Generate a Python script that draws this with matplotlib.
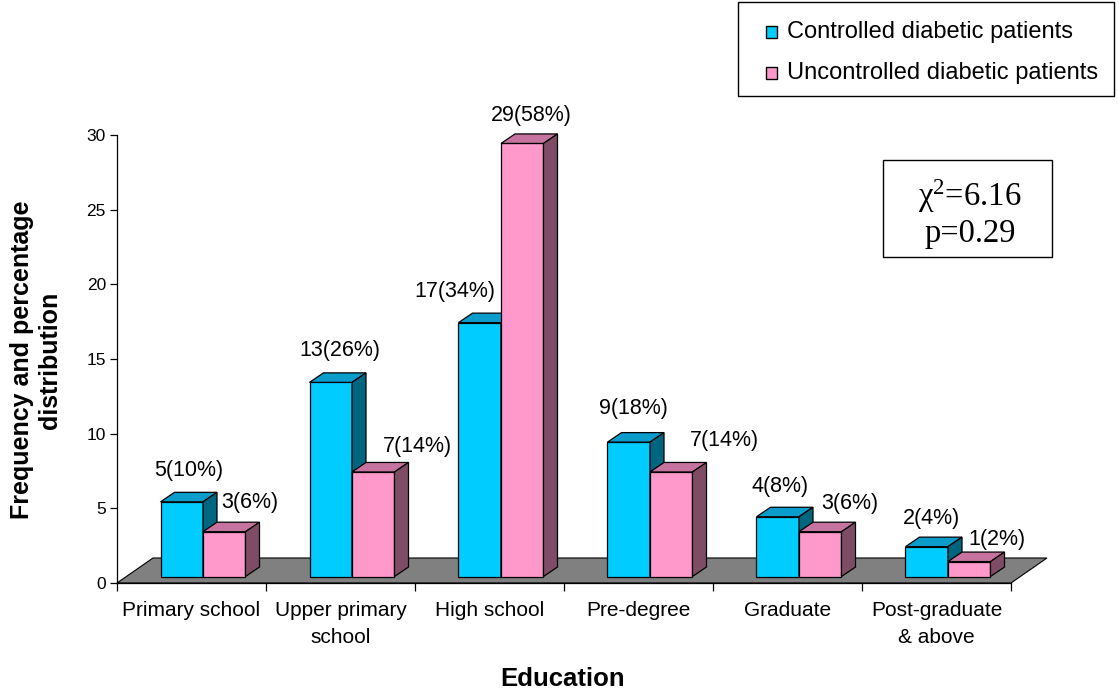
import matplotlib.pyplot as plt
from matplotlib.patches import Polygon, Rectangle

plt.rcParams['font.family'] = ['Liberation Sans', 'DejaVu Sans']
plt.rcParams['mathtext.fontset'] = 'custom'
plt.rcParams['mathtext.rm'] = 'Liberation Serif'
plt.rcParams['mathtext.it'] = 'Liberation Serif'

categories = ["Primary school", "Upper primary\nschool", "High school",
              "Pre-degree", "Graduate", "Post-graduate\n& above"]
controlled = [5, 13, 17, 9, 4, 2]
uncontrolled = [3, 7, 29, 7, 3, 1]
controlled_pct = [10, 26, 34, 18, 8, 4]
uncontrolled_pct = [6, 14, 58, 14, 6, 2]
series_names = ["Controlled diabetic patients", "Uncontrolled diabetic patients"]

# face colours: front, top, side
cyan = ("#00CCFF", "#0A9CCB", "#006680")
pink = ("#FF99CC", "#C6749F", "#7F4C66")

# label nudges in pixels (dx, dy) so the labels do not collide
ctrl_nudge = [(7, 31), (9, 32), (-25, 31), (5, 34), (2, 30), (5, 28)]
unctrl_nudge = [(26, 29), (44, 25), (9, 28), (53, 31), (30, 28), (28, 22)]

W, H = 1119, 691
fig = plt.figure(figsize=(W / 100, H / 100), dpi=100)
ax = fig.add_axes([117 / W, (H - 583) / H, 894 / W, 448 / H])
ax.set_xlim(0, 6)
ax.set_ylim(0, 30)

# pixel -> data
px = 6 / 894
py = 30 / 448
floor_dx, floor_dy = 36 * px, 25 * py
depth_dx, depth_dy = 14 * px, 9.5 * py
bar_off = 43.5 * px
bar_w = 42.5 * px
base = 6.5 * py

floor = Polygon([(0, 0), (6, 0), (6 + floor_dx, floor_dy), (floor_dx, floor_dy)],
                closed=True, facecolor="#808080", edgecolor="black", lw=0.8,
                clip_on=False, zorder=1)
ax.add_patch(floor)


def draw_bar(x0, h, colors):
    front, top, side = colors
    x1 = x0 + bar_w
    y0, y1 = base, base + h
    kw = dict(closed=True, edgecolor="black", lw=0.9, clip_on=False, zorder=2)
    ax.add_patch(Polygon([(x0, y0), (x1, y0), (x1, y1), (x0, y1)], facecolor=front, **kw))
    ax.add_patch(Polygon([(x0, y1), (x1, y1), (x1 + depth_dx, y1 + depth_dy),
                          (x0 + depth_dx, y1 + depth_dy)], facecolor=top, **kw))
    ax.add_patch(Polygon([(x1, y0), (x1 + depth_dx, y0 + depth_dy),
                          (x1 + depth_dx, y1 + depth_dy), (x1, y1)], facecolor=side, **kw))


for i in range(len(categories)):
    x_c = i + bar_off
    x_u = x_c + bar_w
    draw_bar(x_c, controlled[i], cyan)
    draw_bar(x_u, uncontrolled[i], pink)
    ax.annotate("{}({}%)".format(controlled[i], controlled_pct[i]),
                xy=(x_c + bar_w / 2, base + controlled[i]), xytext=ctrl_nudge[i],
                textcoords="offset pixels", ha="center", va="center", fontsize=15.5)
    ax.annotate("{}({}%)".format(uncontrolled[i], uncontrolled_pct[i]),
                xy=(x_u + bar_w / 2, base + uncontrolled[i]), xytext=unctrl_nudge[i],
                textcoords="offset pixels", ha="center", va="center", fontsize=15.5)

# axes
for s in ["top", "right"]:
    ax.spines[s].set_visible(False)
for s in ["left", "bottom"]:
    ax.spines[s].set_linewidth(0.9)
    ax.spines[s].set_zorder(3)

ax.set_yticks(range(0, 31, 5))
ax.tick_params(axis="y", direction="out", length=5, width=0.9, labelsize=12.5, pad=3)
ax.set_xticks(range(7))
ax.set_xticklabels([])
ax.tick_params(axis="x", which="major", direction="out", length=6, width=0.9)
ax.set_xticks([i + 0.5 for i in range(6)], minor=True)
ax.set_xticklabels(categories, minor=True, fontsize=15, linespacing=1.55)
ax.tick_params(axis="x", which="minor", length=0, pad=13)

fig.text(36 / W, 1 - 360 / H, "Frequency and percentage\ndistribution", rotation=90,
         ha="center", va="center", fontsize=18, fontweight="bold", linespacing=1.25)
fig.text(563 / W, 1 - 679 / H, "Education", ha="center", va="center",
         fontsize=18.5, fontweight="bold")

# legend box
fig.add_artist(Rectangle((738 / W, 1 - 96 / H), 376 / W, 94 / H, transform=fig.transFigure,
                         fill=False, edgecolor="black", lw=1))
for name, col, yc in zip(series_names, [cyan[0], pink[0]], [32, 73]):
    fig.add_artist(Rectangle((766 / W, 1 - (yc + 5.5) / H), 11 / W, 11 / H,
                             transform=fig.transFigure, facecolor=col,
                             edgecolor="black", lw=1))
    fig.text(787 / W, 1 - yc / H, name, ha="left", va="center", fontsize=17)

# chi-square box
serif = ["Liberation Serif", "DejaVu Serif"]
fig.add_artist(Rectangle((883 / W, 1 - 257 / H), 169 / W, 97 / H, transform=fig.transFigure,
                         fill=False, edgecolor="black", lw=1))
fig.text(970 / W, 1 - 206 / H, r"$\mathrm{\chi}^{\mathrm{2}}$=6.16", ha="center",
         va="baseline", fontsize=23.5, family=serif)
fig.text(970 / W, 1 - 242 / H, "p=0.29", ha="center", va="baseline",
         fontsize=23.5, family=serif)

fig.savefig("out.png", dpi=100)
